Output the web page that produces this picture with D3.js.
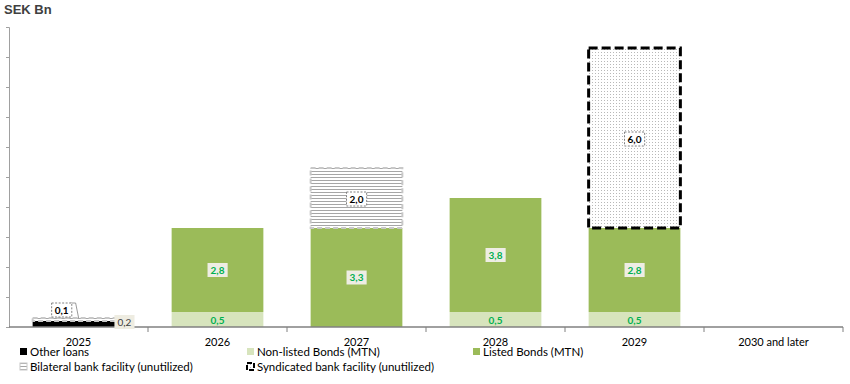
<!DOCTYPE html>
<html><head><meta charset="utf-8">
<script src="https://cdn.jsdelivr.net/npm/d3@7"></script>
<style>
html,body{margin:0;padding:0;background:#fff;}
svg{display:block;}
text{font-family:Lato,"Open Sans",sans-serif;}
</style></head>
<body>
<svg id="chart" width="850" height="384"></svg>
<script>
// ---- data ----
const categories = ["2025","2026","2027","2028","2029","2030 and later"];
const otherLoans = [0.2, 0, 0, 0, 0, 0];
const nonListed  = [0, 0.5, 0, 0.5, 0.5, 0];
const listed     = [0, 2.8, 3.3, 3.8, 2.8, 0];
const bilateral  = [0.1, 0, 2.0, 0, 0, 0];
const syndicated = [0, 0, 0, 0, 6.0, 0];
const seriesNames = ["Other loans","Non-listed Bonds (MTN)","Listed Bonds (MTN)","Bilateral bank facility (unutilized)","Syndicated bank facility (unutilized)"];
const yTicks = [0,1,2,3,4,5,6,7,8,9,10];
const unitLabel = "SEK Bn";

// ---- build ----
const keys = ["other","nonListed","listed","bilateral","syndicated"];
const rows = categories.map((c,i)=>({cat:c, other:otherLoans[i], nonListed:nonListed[i], listed:listed[i], bilateral:bilateral[i], syndicated:syndicated[i]}));
const stacked = d3.stack().keys(keys)(rows);

const svg = d3.select("#chart");
const defs = svg.append("defs");
const ph = defs.append("pattern").attr("id","hlines").attr("patternUnits","userSpaceOnUse").attr("width",4).attr("height",3);
ph.append("rect").attr("width",4).attr("height",3).attr("fill","#fff");
ph.append("rect").attr("y",0).attr("width",4).attr("height",1).attr("fill","#a6a6a6");
const pd = defs.append("pattern").attr("id","dots").attr("patternUnits","userSpaceOnUse").attr("width",3).attr("height",3);
pd.append("rect").attr("width",3).attr("height",3).attr("fill","#fff");
pd.append("rect").attr("x",1).attr("y",1).attr("width",1).attr("height",1).attr("fill","#b8b8b8");

const x = d3.scaleBand().domain(categories).range([9,843]).padding(0);
const y = d3.scaleLinear().domain([0,10]).range([327,27]);
const barW = x.bandwidth()*0.66;
const bx = c => x(c) + (x.bandwidth()-barW)/2;

const styles = {
  other:{fill:"#000"},
  nonListed:{fill:"#D7E4BD"},
  listed:{fill:"#9BBB59"},
  bilateral:{fill:"url(#hlines)", stroke:"#c8c8c8", sw:2, dash:"5,3"},
  syndicated:{fill:"url(#dots)", stroke:"#000", sw:3, dash:"9,4"}
};

// title
svg.append("text").attr("x",4).attr("y",14)
  .style("font-family","'Liberation Sans', Arial, sans-serif")
  .attr("font-weight","bold").attr("font-size",13).attr("fill","#404040").text(unitLabel);

// y axis
const yAxis = svg.append("g").attr("transform","translate(9,0)")
  .call(d3.axisLeft(y).tickValues(yTicks).tickSize(3).tickFormat(""));
yAxis.select(".domain").attr("stroke","#a0a0a0");
yAxis.selectAll(".tick line").attr("stroke","#a0a0a0");

// bars
stacked.forEach(s=>{
  const st = styles[s.key];
  const g = svg.append("g");
  s.forEach(d=>{
    const v = d[1]-d[0];
    if(v<=0) return;
    const r = g.append("rect").attr("x",bx(d.data.cat)).attr("y",y(d[1]))
      .attr("width",barW).attr("height",y(d[0])-y(d[1])).attr("fill",st.fill);
    if(st.stroke){
      r.attr("stroke",st.stroke).attr("stroke-width",st.sw).attr("stroke-dasharray",st.dash);
    }
  });
});

// x axis
svg.append("line").attr("x1",x.range()[0]).attr("x2",x.range()[1]).attr("y1",y(0)).attr("y2",y(0))
  .attr("stroke","#808080").attr("stroke-width",1.3);
const bounds = categories.map(c=>x(c)).concat([x.range()[1]]);
svg.selectAll(".xt").data(bounds.slice(1)).enter().append("line")
  .attr("x1",d=>d).attr("x2",d=>d).attr("y1",y(0)).attr("y2",y(0)+5).attr("stroke","#808080");
svg.selectAll(".xl").data(categories).enter().append("text")
  .attr("x",d=>x(d)+x.bandwidth()/2).attr("y",346).attr("text-anchor","middle")
  .attr("font-size",11).attr("fill","#000").text(d=>d);

// labels
const fmt = v => d3.format(".1f")(v).replace(".",",");
function boxLabel(cx, cy, txt, o){
  const g = svg.append("g");
  const t = g.append("text").attr("x",cx).attr("y",cy).attr("dy","0.35em").attr("text-anchor","middle")
    .attr("font-size",o.size||10).attr("font-weight",o.bold?"bold":"normal").attr("fill",o.color).text(txt);
  if(o.bg){
    const bb = t.node().getBBox();
    g.insert("rect","text").attr("x",bb.x-3).attr("y",cy-7).attr("width",bb.width+6).attr("height",14)
      .attr("fill",o.bg).attr("stroke",o.border||"none").attr("stroke-dasharray",o.border?"2,1.5":null).attr("stroke-width",1);
  }
  return g;
}
stacked.forEach(s=>{
  s.forEach(d=>{
    const v = d[1]-d[0];
    if(v<=0) return;
    const cx = bx(d.data.cat)+barW/2, cy = (y(d[0])+y(d[1]))/2;
    if(s.key==="other"){
      boxLabel(bx(d.data.cat)+barW, cy-2, fmt(v), {color:"#404040", bg:"#EEECE1", size:10});
    } else if(s.key==="nonListed"){
      boxLabel(cx, cy+0.5, fmt(v), {color:"#00B050", bold:true});
    } else if(s.key==="listed"){
      boxLabel(cx, cy, fmt(v), {color:"#00B050", bold:true, bg:"#EEEDE4"});
    } else {
      if(v<0.5){
        const lx = bx(d.data.cat)+29, ly = 310;
        svg.append("path").attr("d",`M${lx+9},${ly-7} h5 L${lx+17},${y(d[1])}`).attr("fill","none").attr("stroke","#808080").attr("stroke-width",0.8);
        boxLabel(lx, ly, fmt(v), {color:"#000", bold:true, bg:"#fff", border:"#808080"});
      } else {
        boxLabel(cx, cy+1, fmt(v), {color:"#000", bold:true, bg:"#fff", border:"#808080"});
      }
    }
  });
});

// legend
const legendPos = [[20,352],[247,352],[473,352],[20,367],[247,367]];
keys.forEach((k,i)=>{
  const [lx,ly] = legendPos[i];
  const st = styles[k];
  const r = svg.append("rect").attr("x",lx).attr("y",ly-4).attr("width",7).attr("height",7).attr("fill",st.fill);
  if(st.stroke) r.attr("stroke",st.stroke).attr("stroke-width",st.sw>2?2:1).attr("stroke-dasharray",st.sw>2?"5,2":null);
  svg.append("text").attr("x",lx+10).attr("y",ly).attr("dy","0.35em").attr("font-size",11.5).attr("fill","#000").text(seriesNames[i]);
});
</script>
</body></html>
